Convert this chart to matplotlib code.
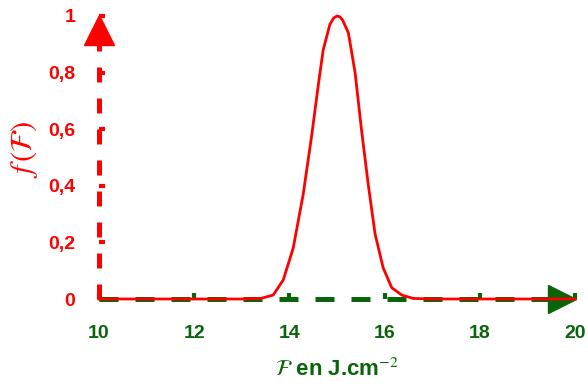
import matplotlib.pyplot as plt
import numpy as np

# points
F = [10, 13.0, 13.4, 13.66, 13.87, 14.08, 14.29, 14.47, 14.61, 14.71, 14.85, 14.93, 15.0,
     15.06, 15.12, 15.24, 15.38, 15.52, 15.66, 15.80, 15.97, 16.15, 16.36, 16.6, 17, 20]
f = [0, 0, 0.002, 0.014, 0.067, 0.18, 0.37, 0.58, 0.76, 0.88, 0.97, 0.993, 1.0,
     0.997, 0.985, 0.94, 0.80, 0.59, 0.40, 0.23, 0.11, 0.04, 0.014, 0.002, 0, 0]

xticks = [10, 12, 14, 16, 18, 20]
yticks = [0, 0.2, 0.4, 0.6, 0.8, 1]
ylabels = ["0", "0,2", "0,4", "0,6", "0,8", "1"]

rouge = "#ff0000"
vert = "#0a640a"

plt.rcParams['font.family'] = ['Liberation Sans', 'DejaVu Sans']
plt.rcParams['mathtext.fontset'] = 'stix'

fig = plt.figure(figsize=(5.88, 3.87), dpi=100)
ax = fig.add_axes([99/588, (387-299)/387, 476/588, 283/387])
ax.set_xlim(10, 20)
ax.set_ylim(0, 1)
for s in ax.spines.values():
    s.set_visible(False)

# axes en pointillés avec flèches
ax.plot([10, 10], [0, 0.93], color=rouge, lw=3.6, dashes=(3, 3.2), clip_on=False)
ax.plot([10], [0.95], marker='^', ms=22, color=rouge, clip_on=False)
ax.plot([10, 19.5], [0, 0], color=vert, lw=3.6, dashes=(3.8, 3.4), clip_on=False)
ax.plot([19.72], [0], marker='>', ms=20, color=vert, clip_on=False)

# courbe
ax.plot(F, f, color=rouge, lw=2, clip_on=False, solid_joinstyle='round')

ax.set_xticks(xticks)
ax.set_xticklabels([str(t) for t in xticks])
ax.set_yticks(yticks)
ax.set_yticklabels(ylabels)
ax.tick_params(axis='x', direction='in', length=4, width=3, color=vert, labelcolor=vert,
               labelsize=14, pad=19)
ax.tick_params(axis='y', direction='in', length=4, width=3, color=rouge, labelcolor=rouge,
               labelsize=14, pad=17)
for lab in ax.get_xticklabels() + ax.get_yticklabels():
    lab.set_fontweight('bold')

ax.set_ylabel(r"$f\,(\mathcal{F})$", color=rouge, fontsize=22)
ax.yaxis.set_label_coords(-0.125, 0.53)
ax.set_xlabel(r"$\mathcal{F}$ en J.cm$^{-2}$", color=vert, fontsize=16, fontweight='bold')
ax.xaxis.set_label_coords(0.5, -0.21)

fig.savefig("out.png", dpi=100)
